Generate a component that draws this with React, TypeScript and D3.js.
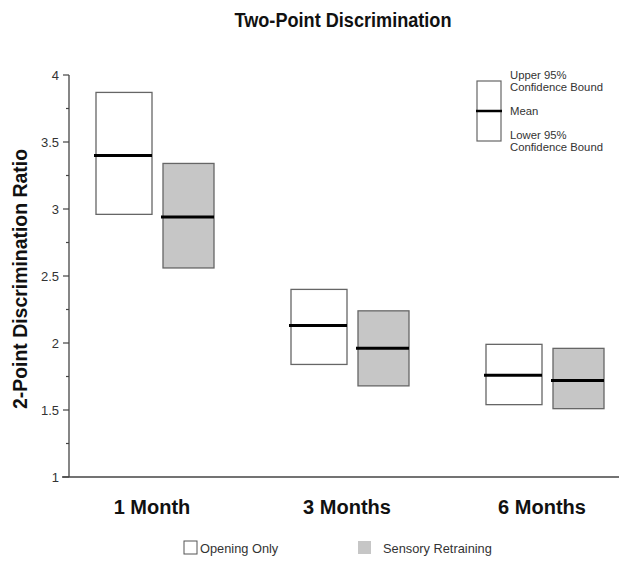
import React from "react";
import * as d3 from "d3";

const categories = ["1 Month", "3 Months", "6 Months"];
const seriesNames = ["Opening Only", "Sensory Retraining"];
const openingUpper = [3.87, 2.40, 1.99];
const openingMean = [3.40, 2.13, 1.76];
const openingLower = [2.96, 1.84, 1.54];
const sensoryUpper = [3.34, 2.24, 1.96];
const sensoryMean = [2.94, 1.96, 1.72];
const sensoryLower = [2.56, 1.68, 1.51];
const yTicks = [1, 1.5, 2, 2.5, 3, 3.5, 4];
const yMinorTicks = [1.25, 1.75, 2.25, 2.75, 3.25, 3.75];

const W = 624;
const H = 563;
const font = "Arial, 'Liberation Sans', Helvetica, sans-serif";

export default function App() {
  const y = d3.scaleLinear().domain([1, 4]).range([477, 75]);
  const x = d3.scalePoint<string>().domain(categories).range([152, 542]);
  const fills = ["#ffffff", "#c6c6c6"];
  const offsets = [-56, 11];
  const widths = [56, 51];
  const series = [
    { upper: openingUpper, mean: openingMean, lower: openingLower },
    { upper: sensoryUpper, mean: sensoryMean, lower: sensoryLower },
  ];
  const axisColor = "#444";
  const boxStroke = "#666";

  return (
    <svg
      width={W}
      height={H}
      style={{ position: "absolute", left: 0, top: 0, display: "block", background: "#fff" }}
      fontFamily={font}
    >
      <rect x={0} y={0} width={W} height={H} fill="#fff" />
      <text
        x={343}
        y={27}
        textAnchor="middle"
        fontSize={20}
        fontWeight="bold"
        fill="#111"
        textLength={217}
        lengthAdjust="spacingAndGlyphs"
      >
        Two-Point Discrimination
      </text>

      {/* Y axis */}
      <line x1={69} x2={69} y1={y(4)} y2={y(1)} stroke={axisColor} strokeWidth={1.3} />
      {yTicks.map((t) => (
        <g key={"t" + t}>
          <line x1={63} x2={69} y1={y(t)} y2={y(t)} stroke={axisColor} strokeWidth={1.2} />
          <text x={59} y={y(t) + 4.5} textAnchor="end" fontSize={13} fill="#333">
            {String(t)}
          </text>
        </g>
      ))}
      {yMinorTicks.map((t) => (
        <line key={"m" + t} x1={66} x2={69} y1={y(t)} y2={y(t)} stroke={axisColor} strokeWidth={1.2} />
      ))}
      <text
        transform={`translate(27,${279}) rotate(-90)`}
        textAnchor="middle"
        fontSize={19.5}
        fontWeight="bold"
        fill="#111"
        textLength={260}
        lengthAdjust="spacingAndGlyphs"
      >
        2-Point Discrimination Ratio
      </text>

      {/* X axis */}
      <line x1={62} x2={619} y1={y(1)} y2={y(1)} stroke={axisColor} strokeWidth={1.5} />
      {categories.map((c) => (
        <text key={c} x={x(c)} y={514} textAnchor="middle" fontSize={20} fontWeight="bold" fill="#111">
          {c}
        </text>
      ))}

      {/* Boxes */}
      {series.map((s, si) =>
        categories.map((c, ci) => {
          const x0 = (x(c) as number) + offsets[si];
          return (
            <g key={si + "-" + c}>
              <rect
                x={x0}
                y={y(s.upper[ci])}
                width={widths[si]}
                height={y(s.lower[ci]) - y(s.upper[ci])}
                fill={fills[si]}
                stroke={boxStroke}
                strokeWidth={1.3}
              />
              <line
                x1={x0 - 2}
                x2={x0 + widths[si]}
                y1={y(s.mean[ci])}
                y2={y(s.mean[ci])}
                stroke="#000"
                strokeWidth={3}
              />
            </g>
          );
        })
      )}

      {/* Top-right legend */}
      <rect x={477} y={81} width={24} height={60} fill="#fff" stroke={boxStroke} strokeWidth={1.2} />
      <line x1={476} x2={502} y1={111} y2={111} stroke="#000" strokeWidth={2.5} />
      <g fontSize={11.3} fill="#333">
        <text x={510} y={79}>Upper 95%</text>
        <text x={510} y={91}>Confidence Bound</text>
        <text x={510} y={115}>Mean</text>
        <text x={510} y={139}>Lower 95%</text>
        <text x={510} y={151}>Confidence Bound</text>
      </g>

      {/* Bottom legend */}
      {seriesNames.map((n, i) => {
        const lx = [184, 358][i];
        return (
          <g key={n}>
            <rect x={lx} y={541} width={13} height={13} fill={fills[i]} stroke={i === 0 ? "#555" : "none"} strokeWidth={1} />
            <text x={lx + (i === 0 ? 16 : 25)} y={553} fontSize={12.8} fill="#333">
              {n}
            </text>
          </g>
        );
      })}
    </svg>
  );
}
